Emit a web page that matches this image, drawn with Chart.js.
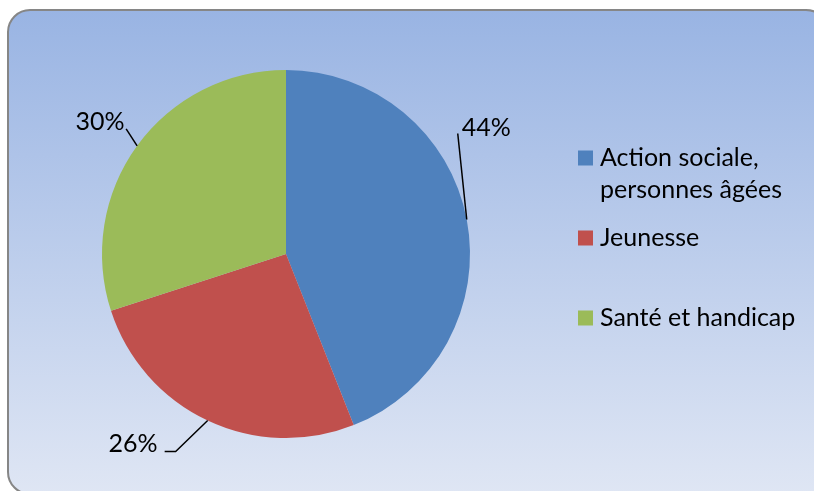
<!DOCTYPE html>
<html>
<head>
<meta charset="utf-8">
<script src="https://cdn.jsdelivr.net/npm/chart.js@4/dist/chart.umd.min.js"></script>
<style>
    html, body { margin: 0; padding: 0; background: #fff; }
    #wrap { width: 814px; height: 491px; }
</style>
</head>
<body>
<div id="wrap"><canvas id="pie"></canvas></div>
<script>
const categories = [["Action sociale,", "personnes âgées"], ["Jeunesse"], ["Santé et handicap"]];
const shares = [44, 26, 30];
const colors = ['#4F81BD', '#C0504D', '#9BBB59'];

const FONT = '25px Lato, "Open Sans", sans-serif';

// background panel with gradient and rounded border
const panelPlugin = {
    id: 'panel',
    beforeDraw(chart) {
        const ctx = chart.ctx;
        const x = 8, y = 10, w = 820, h = 484, r = 22;
        ctx.save();
        const g = ctx.createLinearGradient(0, y, 0, y + h);
        g.addColorStop(0, '#99B4E3');
        g.addColorStop(1, '#DFE6F4');
        ctx.beginPath();
        ctx.roundRect(x, y, w, h, r);
        ctx.fillStyle = g;
        ctx.fill();
        ctx.lineWidth = 2;
        ctx.strokeStyle = '#868686';
        ctx.stroke();
        ctx.restore();
    }
};

// percentage labels with leader lines
const labelPlugin = {
    id: 'pctLabels',
    afterDatasetsDraw(chart) {
        const ctx = chart.ctx;
        const meta = chart.getDatasetMeta(0);
        const guides = [
            { line: [[-9, -86]], text: [-5, -92], align: 'left' },
            { line: [[-32, 31], [-43, 31]], text: [-50, 23], align: 'right' },
            { line: [[-11, -17]], text: [-37, -24], align: 'center' }
        ];
        ctx.save();
        ctx.font = FONT;
        ctx.fillStyle = '#000';
        ctx.strokeStyle = '#000';
        ctx.lineWidth = 1.5;
        ctx.textBaseline = 'middle';
        meta.data.forEach((arc, i) => {
            const p = arc.getProps(['x', 'y', 'startAngle', 'endAngle', 'outerRadius'], true);
            const mid = (p.startAngle + p.endAngle) / 2;
            const ex = p.x + Math.cos(mid) * p.outerRadius;
            const ey = p.y + Math.sin(mid) * p.outerRadius;
            const gd = guides[i];
            ctx.beginPath();
            ctx.moveTo(ex, ey);
            gd.line.forEach(([dx, dy]) => ctx.lineTo(ex + dx, ey + dy));
            ctx.stroke();
            ctx.textAlign = gd.align;
            ctx.fillText(shares[i] + '%', ex + gd.text[0], ey + gd.text[1]);
        });
        ctx.restore();
    }
};

// legend on the right
const legendPlugin = {
    id: 'sideLegend',
    afterDraw(chart) {
        const ctx = chart.ctx;
        const rows = [158, 238, 318];
        ctx.save();
        ctx.font = FONT;
        ctx.textBaseline = 'middle';
        ctx.textAlign = 'left';
        categories.forEach((lines, i) => {
            const cy = rows[i];
            ctx.fillStyle = colors[i];
            ctx.fillRect(578, cy - 7.5, 15, 15);
            ctx.fillStyle = '#000';
            lines.forEach((t, k) => ctx.fillText(t, 600, cy + k * 32));
        });
        ctx.restore();
    }
};

new Chart(document.getElementById('pie'), {
    type: 'pie',
    data: {
        labels: categories.map(c => c.join(' ')),
        datasets: [{
            data: shares,
            backgroundColor: colors,
            borderWidth: 0
        }]
    },
    options: {
        responsive: true,
        maintainAspectRatio: false,
        animation: false,
        layout: { padding: { left: 102, right: 344, top: 70, bottom: 53 } },
        plugins: {
            legend: { display: false },
            tooltip: { enabled: false }
        }
    },
    plugins: [panelPlugin, labelPlugin, legendPlugin]
});
</script>
</body>
</html>
